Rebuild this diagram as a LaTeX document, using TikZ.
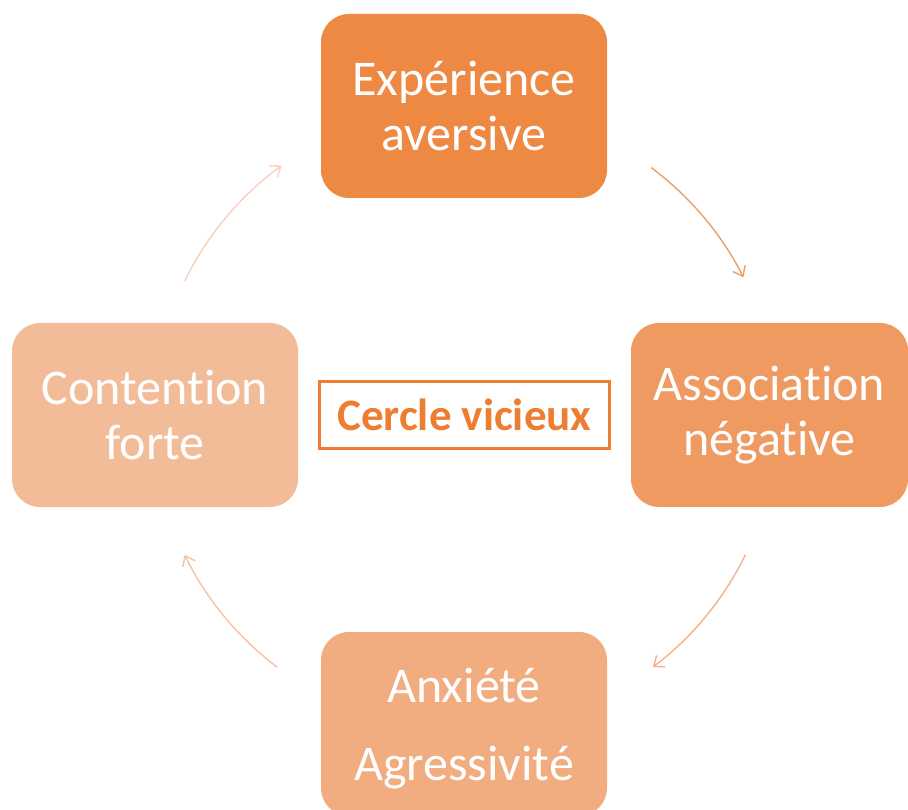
\documentclass[tikz,border=0pt]{standalone}
\usepackage{fontspec}
\setmainfont[Ligatures=NoCommon]{Carlito}
\usetikzlibrary{arrows.meta,calc}
\definecolor{cA}{RGB}{237,137,67}
\definecolor{cB}{RGB}{239,154,97}
\definecolor{cC}{RGB}{241,172,127}
\definecolor{cD}{RGB}{243,188,152}
\definecolor{cMain}{RGB}{237,125,49}
\definecolor{aA}{RGB}{240,158,100}
\definecolor{aB}{RGB}{244,178,138}
\definecolor{aC}{RGB}{246,194,165}
\definecolor{aD}{RGB}{248,208,188}
\tikzset{
  stepbox/.style={rounded corners=28pt, minimum width=286pt, minimum height=184pt,
    text=white, align=center, inner sep=0pt},
  steptext/.style={text=white, align=center, inner sep=0pt},
  cyc/.style={line width=1.4pt, -{Straight Barb[length=9pt,width=14pt,line width=1.4pt]}},
}
\begin{document}
\begin{tikzpicture}[x=1pt,y=1pt]
\useasboundingbox (0,0) rectangle (908,-810);
\begin{scope}
\clip (0,0) rectangle (908,-810);
\node[stepbox, fill=cA, font=\fontsize{50}{55}\selectfont] (top) at (464,-106) {Expérience\\aversive};
\node[stepbox, fill=cB, minimum width=277pt, font=\fontsize{50}{55}\selectfont] (right) at (769.5,-415) {Association\\négative};
\node[stepbox, fill=cC] (bottom) at (464,-724) {};
\node[steptext, font=\fontsize{50}{78}\selectfont] (bottomtext) at (464,-729) {Anxiété\\Agressivité};
\node[stepbox, fill=cD, font=\fontsize{50}{55}\selectfont] (left) at (155,-415) {Contention\\forte};
\end{scope}
\node[draw=cMain, line width=3pt, minimum width=290pt, minimum height=67pt, inner sep=0pt,
  text=cMain, font=\bfseries\fontsize{45}{50}\selectfont] (center) at (464.5,-415) {Cercle vicieux};
\coordinate (o) at (465,-418);
\coordinate (s1) at ($(o)+(53.4:312)$);
\coordinate (s2) at ($(o)+(-26:312)$);
\coordinate (s3) at ($(o)+(-127:312)$);
\coordinate (s4) at ($(o)+(154:312)$);
\draw[cyc, aA] (s1) arc[start angle=53.4, end angle=26.8, radius=312];
\draw[cyc, aB] (s2) arc[start angle=-26, end angle=-53, radius=312];
\draw[cyc, aC] (s3) arc[start angle=-127, end angle=-154, radius=312];
\draw[cyc, aD] (s4) arc[start angle=154, end angle=126, radius=312];
\end{tikzpicture}
\end{document}
